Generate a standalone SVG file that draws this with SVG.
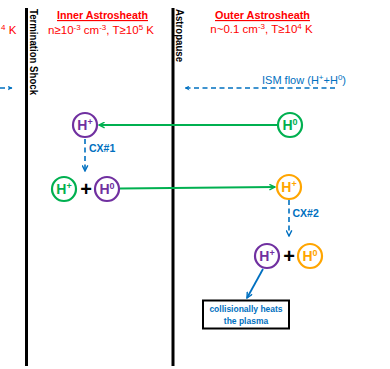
<svg xmlns="http://www.w3.org/2000/svg" width="390" height="369" viewBox="0 0 390 369">
<defs>
<style>
.t{font-family:"Liberation Sans",Arial,sans-serif}
.red{fill:#FF0000;font-size:11.5px}
.hd{font-weight:bold;text-decoration:underline}
.bar{stroke:#000;stroke-width:3}
.vl{font-weight:bold;font-size:10px;fill:#000}
.c{fill:#fff;stroke-width:2.2}
.lab{font-weight:bold;font-size:14px;text-anchor:middle}
.sup{font-size:8px}
.sup2{font-size:9px}
.blue{fill:#0070C0}
.dash{stroke:#0070C0;stroke-width:1.6;stroke-dasharray:5 3.5;fill:none}
.grn{stroke:#00B050;stroke-width:1.8;fill:none}
.plus{font-weight:bold;font-size:20px;text-anchor:middle;fill:#000}
</style>
<marker id="ab" viewBox="0 0 10 10" refX="9" refY="5" markerWidth="5" markerHeight="5" orient="auto" markerUnits="userSpaceOnUse"><path d="M0,0 L10,5 L0,10 L3,5 Z" fill="#0070C0"/></marker>
<marker id="ag" viewBox="0 0 10 10" refX="9" refY="5" markerWidth="7" markerHeight="7" orient="auto" markerUnits="userSpaceOnUse"><path d="M1,1 L9,5 L1,9" fill="none" stroke="#00B050" stroke-width="2"/></marker>
<marker id="ad" viewBox="0 0 10 10" refX="9" refY="5" markerWidth="7" markerHeight="7" orient="auto" markerUnits="userSpaceOnUse"><path d="M1,1 L9,5 L1,9" fill="none" stroke="#0070C0" stroke-width="2"/></marker>
</defs>
<rect width="390" height="369" fill="#fff"/>

<g id="boundaries">
<line class="bar" x1="26.5" y1="8" x2="26.5" y2="366"/>
<line class="bar" x1="173" y1="8" x2="173" y2="366"/>
<text class="t vl" transform="translate(30,9) rotate(90)" textLength="86" lengthAdjust="spacingAndGlyphs">Termination Shock</text>
<text class="t vl" transform="translate(176,9) rotate(90)" textLength="53" lengthAdjust="spacingAndGlyphs">Astropause</text>
</g>

<g id="headers">
<text class="t red" x="1" y="34"><tspan class="sup" dy="-4">4</tspan><tspan dy="4"> K</tspan></text>
<text class="t red hd" x="102.5" y="19" text-anchor="middle" font-size="12" textLength="91" lengthAdjust="spacingAndGlyphs">Inner Astrosheath</text>
<text class="t red" x="101" y="34" text-anchor="middle">n≥10<tspan class="sup" dy="-4">-3</tspan><tspan dy="4"> cm</tspan><tspan class="sup" dy="-4">-3</tspan><tspan dy="4">, T≥10</tspan><tspan class="sup" dy="-4">5</tspan><tspan dy="4"> K</tspan></text>
<text class="t red hd" x="262.5" y="19" text-anchor="middle" font-size="12" textLength="95" lengthAdjust="spacingAndGlyphs">Outer Astrosheath</text>
<text class="t red" x="261.5" y="33" text-anchor="middle">n~0.1 cm<tspan class="sup" dy="-4">-3</tspan><tspan dy="4">, T≥10</tspan><tspan class="sup" dy="-4">4</tspan><tspan dy="4"> K</tspan></text>
</g>

<g id="connectors">
<line class="dash" x1="0" y1="88" x2="12" y2="88" marker-end="url(#ab)"/>
<line class="dash" x1="335" y1="88" x2="185" y2="88" marker-end="url(#ab)"/>
<line class="grn" x1="277" y1="125" x2="99" y2="125" marker-end="url(#ag)"/>
<line class="grn" x1="120" y1="188.5" x2="275" y2="187" marker-end="url(#ag)"/>
<line class="dash" x1="85" y1="139" x2="85" y2="171" marker-end="url(#ad)"/>
<line class="dash" x1="289" y1="200" x2="289" y2="236" marker-end="url(#ad)"/>
<line x1="263" y1="269" x2="247" y2="298" stroke="#0070C0" stroke-width="1.8" marker-end="url(#ad)"/>
<text class="t blue" x="262" y="84" font-size="11">ISM flow (H<tspan class="sup" dy="-4">+</tspan><tspan dy="4">+H</tspan><tspan class="sup" dy="-4">0</tspan><tspan dy="4">)</tspan></text>
<text class="t blue" x="89" y="152" font-size="10.5" font-weight="bold">CX#1</text>
<text class="t blue" x="292.5" y="217" font-size="10.5" font-weight="bold">CX#2</text>
</g>

<g id="n1">
<circle class="c" cx="85" cy="125" r="12" stroke="#7030A0"/>
<text class="t lab" x="85" y="130" fill="#7030A0">H<tspan class="sup2" dy="-5">+</tspan></text>
</g>
<g id="n2">
<circle class="c" cx="290" cy="125" r="12" stroke="#00B050"/>
<text class="t lab" x="290" y="130" fill="#00B050">H<tspan class="sup2" dy="-5">0</tspan></text>
</g>
<g id="n3">
<circle class="c" cx="64" cy="189" r="12" stroke="#00B050"/>
<text class="t lab" x="64" y="194" fill="#00B050">H<tspan class="sup2" dy="-5">+</tspan></text>
</g>
<text class="t plus" x="86" y="196">+</text>
<g id="n4">
<circle class="c" cx="107" cy="189" r="12" stroke="#7030A0"/>
<text class="t lab" x="107" y="194" fill="#7030A0">H<tspan class="sup2" dy="-5">0</tspan></text>
</g>
<g id="n5">
<circle class="c" cx="289" cy="187" r="12" stroke="#FFA500"/>
<text class="t lab" x="289" y="192" fill="#FFA500">H<tspan class="sup2" dy="-5">+</tspan></text>
</g>
<g id="n6">
<circle class="c" cx="267" cy="256" r="12" stroke="#7030A0"/>
<text class="t lab" x="267" y="261" fill="#7030A0">H<tspan class="sup2" dy="-5">+</tspan></text>
</g>
<text class="t plus" x="289" y="263">+</text>
<g id="n7">
<circle class="c" cx="310" cy="256" r="12" stroke="#FFA500"/>
<text class="t lab" x="310" y="261" fill="#FFA500">H<tspan class="sup2" dy="-5">0</tspan></text>
</g>
<g id="box">
<rect x="203" y="300.5" width="86" height="28" fill="#fff" stroke="#000" stroke-width="2"/>
<text class="t blue" x="246" y="312" font-size="8.5" font-weight="bold" text-anchor="middle">collisionally heats</text>
<text class="t blue" x="246" y="324" font-size="8.5" font-weight="bold" text-anchor="middle">the plasma</text>
</g>
</svg>
